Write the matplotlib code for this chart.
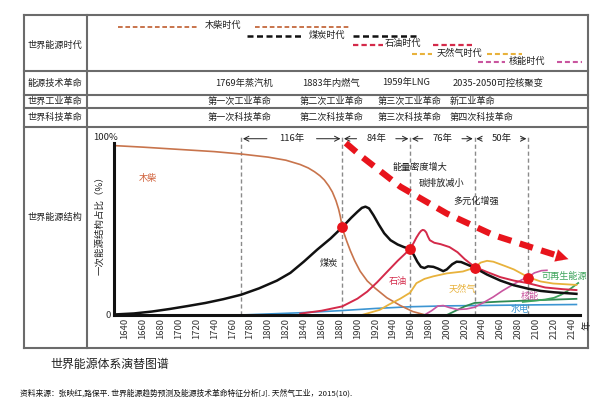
import matplotlib
matplotlib.use('Agg')
import matplotlib.pyplot as plt

plt.rcParams['font.family'] = ['Noto Sans CJK SC', 'DejaVu Sans']

# ---- data ----
wood_year = [1628, 1660, 1700, 1740, 1770, 1800, 1820, 1836, 1845, 1852, 1858, 1863, 1868, 1872,
             1876, 1879, 1881, 1883, 1885, 1888, 1892, 1897, 1903, 1911, 1920, 1933, 1948,
             1962, 1974]
wood_val = [98.5, 97.6, 96.3, 95, 93.6, 91.8, 90, 87.5, 85.5, 83.3, 81, 78.5, 75, 71.5,
            66.5, 61.5, 57, 51, 47.5, 43, 37.5, 31.5, 25.5, 19.8, 15.5, 10, 5.5,
            2, 0.3]

coal_year = [1628, 1650, 1670, 1690, 1710, 1730, 1750, 1770, 1790, 1810, 1825, 1840, 1855, 1870,
             1883, 1893, 1900, 1905, 1909, 1913, 1918, 1924, 1930, 1937, 1945, 1952, 1959,
             1963, 1967, 1971, 1975, 1979, 1985, 1990, 1996, 2000, 2006, 2011, 2016, 2022,
             2031, 2045, 2060, 2075, 2091, 2105, 2120, 2145]
coal_val = [0.3, 0.9, 2, 3.5, 5.2, 7, 9.2, 11.8, 15.5, 20, 24.5, 31, 38, 44.5,
            51, 56.5, 60, 62.3, 63, 62, 58, 52.5, 47.5, 43.5, 41, 39.5, 38.4,
            35, 31, 28, 27.3, 28.3, 28, 27, 25.5, 26.5, 29.5, 31, 30.8, 29.5,
            27.5, 23.5, 20, 17.3, 15.3, 14, 13.2, 12.3]

oil_year = [1836, 1860, 1883, 1900, 1911, 1922, 1933, 1945, 1959, 1963, 1966, 1969, 1971, 1973,
            1975, 1977, 1979, 1981, 1986, 1993, 2003, 2012, 2020, 2031, 2045, 2060, 2075,
            2091, 2110, 2130, 2145]
oil_val = [0.8, 2.5, 5, 9.5, 13.6, 19, 25, 31.5, 38.4, 42, 45, 47.5, 48.8, 49.5,
           49.2, 48, 45.5, 43.5, 42, 41.2, 39.5, 36.5, 32.5, 28, 25, 22, 20,
           18.5, 16, 15, 14.5]

gas_year = [1905, 1915, 1925, 1935, 1948, 1959, 1966, 1975, 1985, 2000, 2018, 2031, 2038, 2045,
            2052, 2065, 2075, 2091, 2105, 2119, 2145]
gas_val = [0, 1.5, 3, 6, 9.5, 13, 18.5, 21, 22.5, 24.2, 25.3, 27.5, 30.5, 31.5,
           31, 28.5, 26.5, 22, 19.5, 18.3, 17.5]

nuke_year = [1975, 1983, 1990, 1996, 2003, 2012, 2022, 2031, 2042, 2052, 2062, 2075, 2084, 2091,
             2098, 2106, 2112]
nuke_val = [0, 2.5, 5.2, 5.5, 4.3, 3.2, 3.5, 4.5, 7.5, 10.5, 14, 18, 20.5, 22,
            24.5, 25.8, 26]

hydro_year = [1770, 1800, 1836, 1880, 1920, 1959, 2000, 2050, 2100, 2145]
hydro_val = [0, 0.6, 1.3, 2.5, 3.8, 4.8, 5.3, 5.6, 5.9, 6.1]

other_year = [2000, 2010, 2020, 2031, 2060, 2100, 2145]
other_val = [0, 2.5, 5, 7, 7.8, 8.6, 9.4]

renew_year = [2085, 2100, 2110, 2120, 2128, 2135, 2141, 2147]
renew_val = [7.6, 8.4, 9, 10, 11.8, 14, 16.3, 18.6]

# turning points (red dots) and era boundaries
cross_year = [1883, 1959, 2031, 2091]
cross_val = [51, 38.4, 27.5, 21.7]
bound_year = [1770, 1883, 1959, 2031, 2091]
span_text = ['116年', '84年', '76年', '50年']

trend_year = [1887, 1905, 1948, 2000, 2052, 2104, 2124]
trend_val = [100, 92, 74.6, 59, 46.5, 37.8, 34.5]
trend_tip = (2136, 32.5)

tick_years = list(range(1640, 2141, 20))

row_labels = ['世界能源时代', '能源技术革命', '世界工业革命', '世界科技革命', '世界能源结构']
tech_text = ['1769年蒸汽机', '1883年内燃气', '1959年LNG', '2035-2050可控核聚变']
industry_text = ['第一次工业革命', '第二次工业革命', '第三次工业革命', '新工业革命']
science_text = ['第一次科技革命', '第二次科技革命', '第三次科技革命', '第四次科技革命']
eras = ['木柴时代', '煤炭时代', '石油时代', '天然气时代', '核能时代']

# ---- colours ----
c_wood = '#c8744c'
c_coal = '#111111'
c_oil = '#d42a4a'
c_gas = '#e8b23c'
c_nuke = '#c9559f'
c_hydro = '#3c95d2'
c_renew = '#3fa45c'
c_other = '#2f8a52'
c_red = '#e8141c'
c_grid = '#6b6b6b'

fig = plt.figure(figsize=(6.01, 4.07), dpi=100)

# background axes in pixel coordinates for the table frame
bg = fig.add_axes([0, 0, 1, 1])
bg.set_xlim(0, 601)
bg.set_ylim(407, 0)
bg.axis('off')

L, R, T, B = 24, 588, 15, 348
colx = 87
rows_y = [T, 71, 95, 108, 127, B]
for y in rows_y:
    bg.plot([L, R], [y, y], color=c_grid, lw=1.5, solid_capstyle='projecting')
bg.plot([L, L], [T, B], color=c_grid, lw=1.5)
bg.plot([R, R], [T, B], color=c_grid, lw=1.5)
bg.plot([colx, colx], [T, B], color=c_grid, lw=1.5)

label_y = [45, 83, 101.5, 117.5, 217]
for lab, y in zip(row_labels, label_y):
    bg.text(55, y, lab, fontsize=6.6, ha='center', va='center', color='#222222')

for txt, x in zip(tech_text, [244, 331, 406, 498]):
    bg.text(x, 83, txt, fontsize=6.7, ha='center', va='center', color='#222222')
for txt, x in zip(industry_text, [240, 332, 410, 472]):
    bg.text(x, 101.5, txt, fontsize=6.6, ha='center', va='center', color='#222222')
for txt, x in zip(science_text, [240, 332, 410, 482]):
    bg.text(x, 117.5, txt, fontsize=6.6, ha='center', va='center', color='#222222')

# energy eras: dashes - name - dashes
era_layout = [
    (c_wood, 26.5, (118, 197), 223, (255, 350), 1.4),
    (c_coal, 36, (247, 303), 327, (353, 418), 1.8),
    (c_oil, 44.5, (353, 383), 403, (433, 472), 1.6),
    (c_gas, 54, (412, 432), 459, (487, 522), 1.5),
    (c_nuke, 62, (478, 505), 527, (557, 582), 1.5),
]
for name, (col, y, seg1, tx, seg2, lw) in zip(eras, era_layout):
    for seg in (seg1, seg2):
        bg.plot(seg, [y, y], color=col, lw=lw, linestyle=(0, (2.4, 1.4)))
    bg.text(tx, y - 1, name, fontsize=6.6, ha='center', va='center', color='#222222')

bg.text(106, 137, '100%', fontsize=6.8, ha='center', va='center', color='#222222')
bg.text(587, 325, '年', fontsize=6.8, ha='center', va='center', rotation=90, color='#222222')
bg.text(100, 223, '一次能源结构占比（%）', fontsize=6.8, ha='center', va='center',
        rotation=90, color='#222222')

bg.text(110, 364, '世界能源体系演替图谱', fontsize=8.6, ha='center', va='center', color='#222222')
bg.text(20, 393, '资料来源：张映红,路保平. 世界能源趋势预测及能源技术革命特征分析[J]. 天然气工业，2015(10).',
        fontsize=5.6, ha='left', va='center', color='#111111')

# ---- main chart ----
ax = fig.add_axes([114 / 601, 92 / 407, 466 / 601, 182.3 / 407])
ax.patch.set_alpha(0)
ax.set_xlim(1627.7, 2149)
ax.set_ylim(0, 106)

for yr in bound_year:
    ax.plot([yr, yr], [0, 104.5], color='#8a8a8a', lw=1.0, linestyle=(0, (3, 2)), zorder=1)

ax.plot(hydro_year, hydro_val, color=c_hydro, lw=1.2, zorder=2)
ax.plot(other_year, other_val, color=c_other, lw=1.3, zorder=2)
ax.plot(renew_year, renew_val, color=c_renew, lw=1.3, zorder=2)
ax.plot(wood_year, wood_val, color=c_wood, lw=1.2, zorder=3)
ax.plot(nuke_year, nuke_val, color=c_nuke, lw=1.2, zorder=3)
ax.plot(gas_year, gas_val, color=c_gas, lw=1.3, zorder=3)
ax.plot(oil_year, oil_val, color=c_oil, lw=1.4, zorder=4)
ax.plot(coal_year, coal_val, color=c_coal, lw=1.8, zorder=4)

ax.scatter(cross_year, cross_val, s=60, color=c_red, zorder=6, linewidths=0)

# trend arrow
ax.plot(trend_year, trend_val, color=c_red, lw=4.5, linestyle=(0, (2.2, 1.4)),
        solid_capstyle='butt', dash_capstyle='butt', zorder=5)
ax.annotate('', xy=trend_tip, xytext=(trend_year[-1] + 3, trend_val[-1] - 0.6),
            arrowprops=dict(arrowstyle='-|>,head_length=0.9,head_width=0.45', color=c_red,
                            lw=0.1, shrinkA=0, shrinkB=0), zorder=5)

# spans between era boundaries
px_per_yr = 466 / (2149 - 1627.7)
for i, txt in enumerate(span_text):
    a, b = bound_year[i], bound_year[i + 1]
    mid = (a + b) / 2
    half = (len(txt) * 5.2 + 4) / px_per_yr
    y = 102.5
    ax.text(mid, y, txt, fontsize=6.8, ha='center', va='center', color='#222222')
    arr = dict(arrowstyle='->,head_length=0.35,head_width=0.18', color='#222222', lw=0.7,
               shrinkA=0, shrinkB=0)
    ax.annotate('', xy=(a + 2, y), xytext=(mid - half, y), arrowprops=arr)
    ax.annotate('', xy=(b - 2, y), xytext=(mid + half, y), arrowprops=arr)

# annotations
ax.text(1970, 86, '能量密度增大', fontsize=6.6, ha='center', va='center', color='#222222')
ax.text(1994, 76.5, '碳排放减小', fontsize=6.6, ha='center', va='center', color='#222222')
ax.text(2033, 66, '多元化增强', fontsize=6.6, ha='center', va='center', color='#222222')

ax.text(1666, 79.6, '木柴', fontsize=6.6, ha='center', va='center', color='#d0603a')
ax.text(1868, 30, '煤炭', fontsize=6.6, ha='center', va='center', color='#222222')
ax.text(1945, 19.4, '石油', fontsize=6.6, ha='center', va='center', color=c_oil)
ax.text(2017, 15, '天然气', fontsize=6.6, ha='center', va='center', color=c_gas)
ax.text(2093, 10.7, '核能', fontsize=6.6, ha='center', va='center', color=c_nuke)
ax.text(2082, 3.3, '水电', fontsize=6.6, ha='center', va='center', color=c_hydro)
ax.text(2132, 22.3, '可再生能源', fontsize=6.6, ha='center', va='center', color=c_renew)

for side in ['top', 'right']:
    ax.spines[side].set_visible(False)
ax.spines['left'].set_bounds(0, 100)
ax.spines['left'].set_linewidth(2.2)
ax.spines['bottom'].set_linewidth(2.2)
ax.spines['left'].set_color('#111111')
ax.spines['bottom'].set_color('#111111')
ax.spines['left'].set_zorder(7)
ax.spines['bottom'].set_zorder(7)

ax.set_xticks(tick_years)
ax.set_xticklabels([str(y) for y in tick_years], rotation=90, fontsize=6.8, color='#333333')
ax.set_yticks([0])
ax.set_yticklabels(['0'], fontsize=6.8, color='#333333')
ax.tick_params(length=0, pad=2)

fig.savefig('out.png', dpi=100)
